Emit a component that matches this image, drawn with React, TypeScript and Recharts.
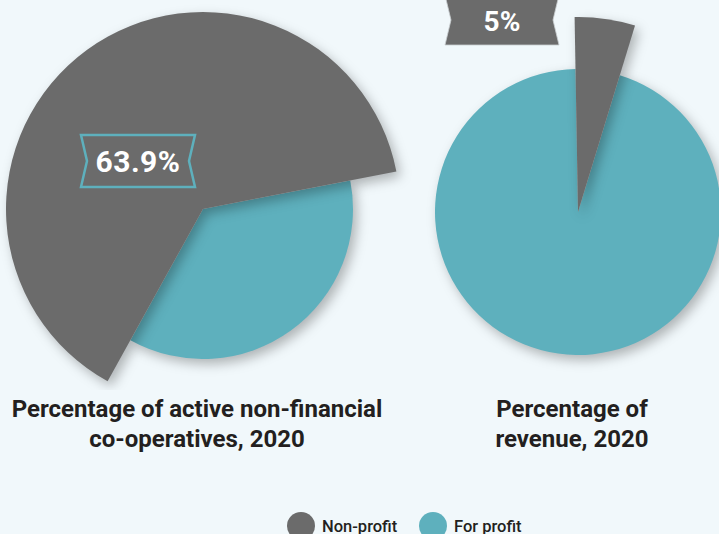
import { PieChart, Pie, Cell } from 'recharts'

const categories = ['Non-profit', 'For profit']
const colors = ['#6b6b6b', '#5eb0bd']
const activeShares = [63.9, 36.1]
const revenueShares = [5, 95]
const valueLabels = ['63.9%', '5%']
const titleLines = [
  ['Percentage of active non-financial', 'co-operatives, 2020'],
  ['Percentage of', 'revenue, 2020']
]

const activeData = categories.map((name, i) => ({ name, value: activeShares[i] }))
const revenueData = categories.map((name, i) => ({ name, value: revenueShares[i] }))

const font = 'Roboto, "Noto Sans", sans-serif'

// ribbon outline with inward notches on left and right
function ribbonPoints(x: number, y: number, w: number, h: number, notch: number) {
  const l = x - w / 2
  const r = x + w / 2
  const t = y - h / 2
  const b = y + h / 2
  return `${l},${t} ${r},${t} ${r - notch},${y} ${r},${b} ${l},${b} ${l + notch},${y}`
}

const activeLabel = (props: any) => {
  if (props.index !== 0) return null
  const x = props.cx - 65
  const y = props.cy - 48
  return (
    <g>
      <polygon
        points={ribbonPoints(x, y, 114, 52, 6)}
        fill="none"
        stroke="#5eb0bd"
        strokeWidth={2.5}
      />
      <text
        x={x}
        y={y + 11}
        textAnchor="middle"
        fill="#fff"
        fontFamily={font}
        fontWeight={700}
        fontSize={30}
        letterSpacing={0.5}
      >
        {valueLabels[0]}
      </text>
    </g>
  )
}

const revenueLabel = (props: any) => {
  if (props.index !== 0) return null
  const x = props.cx - 76
  const y = props.cy - 192
  return (
    <g>
      <polygon points={ribbonPoints(x, y, 114, 50, 6)} fill="#6b6b6b" stroke="#c9ced1" strokeWidth={0.8} />
      <text
        x={x}
        y={y + 11}
        textAnchor="middle"
        fill="#fff"
        fontFamily={font}
        fontWeight={700}
        fontSize={28}
      >
        {valueLabels[1]}
      </text>
    </g>
  )
}

const titleStyle = (center: number): React.CSSProperties => ({
  position: 'absolute',
  left: center - 220,
  width: 440,
  top: 394,
  textAlign: 'center',
  fontFamily: font,
  fontWeight: 700,
  fontSize: 24,
  lineHeight: '30px',
  color: '#231f20'
})

export default function App() {
  return (
    <div style={{ position: 'relative', width: 719, height: 534, background: '#f1f8fb', overflow: 'hidden' }}>
      <style>{`body{margin:0} .recharts-pie-sector path{filter:drop-shadow(4px 5px 6px rgba(0,0,0,0.28))}`}</style>
      <PieChart
        width={719}
        height={390}
        margin={{ top: 0, right: 0, bottom: 0, left: 0 }}
        style={{ position: 'absolute', left: 0, top: 0 }}
      >
        <Pie
          data={activeData}
          dataKey="value"
          cx={203}
          cy={209}
          outerRadius={150}
          startAngle={11}
          endAngle={371}
          stroke="none"
          isAnimationActive={false}
        >
          {activeData.map((d, i) => (
            <Cell key={d.name} fill={colors[i]} fillOpacity={i === 1 ? 1 : 0} />
          ))}
        </Pie>
        <Pie
          data={activeData}
          dataKey="value"
          cx={203}
          cy={209}
          outerRadius={197}
          startAngle={11}
          endAngle={371}
          stroke="none"
          label={activeLabel}
          labelLine={false}
          isAnimationActive={false}
        >
          {activeData.map((d, i) => (
            <Cell key={d.name} fill={colors[i]} fillOpacity={i === 0 ? 1 : 0} />
          ))}
        </Pie>
        <Pie
          data={revenueData}
          dataKey="value"
          cx={578}
          cy={212}
          outerRadius={143}
          startAngle={73}
          endAngle={433}
          stroke="none"
          isAnimationActive={false}
        >
          {revenueData.map((d, i) => (
            <Cell key={d.name} fill={colors[i]} fillOpacity={i === 1 ? 1 : 0} />
          ))}
        </Pie>
        <Pie
          data={revenueData}
          dataKey="value"
          cx={578}
          cy={212}
          outerRadius={195}
          startAngle={73}
          endAngle={433}
          stroke="none"
          label={revenueLabel}
          labelLine={false}
          isAnimationActive={false}
        >
          {revenueData.map((d, i) => (
            <Cell key={d.name} fill={colors[i]} fillOpacity={i === 0 ? 1 : 0} />
          ))}
        </Pie>
      </PieChart>

      <div style={titleStyle(197)}>
        {titleLines[0].map(t => <div key={t}>{t}</div>)}
      </div>
      <div style={titleStyle(572)}>
        {titleLines[1].map(t => <div key={t}>{t}</div>)}
      </div>

      {categories.map((name, i) => (
        <div
          key={name}
          style={{
            position: 'absolute',
            left: i === 0 ? 287 : 419,
            top: 512,
            display: 'flex',
            alignItems: 'center',
            fontFamily: font,
            fontWeight: 500,
            fontSize: 16.5,
            color: '#231f20'
          }}
        >
          <span
            style={{
              width: 28,
              height: 28,
              borderRadius: 14,
              background: colors[i],
              marginRight: 7,
              display: 'inline-block'
            }}
          />
          {name}
        </div>
      ))}
    </div>
  )
}
